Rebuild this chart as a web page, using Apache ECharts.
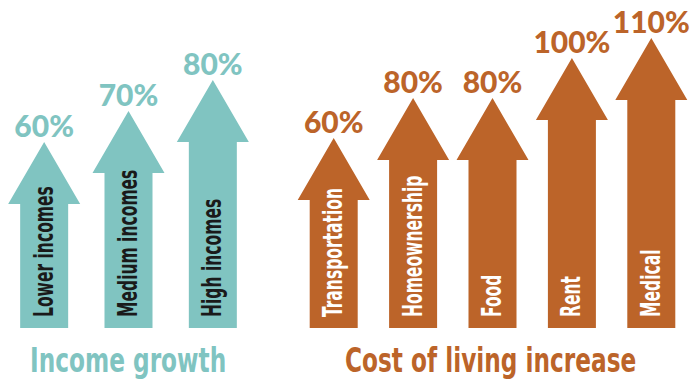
<!DOCTYPE html>
<html>
<head>
<meta charset="utf-8">
<script src="https://cdn.jsdelivr.net/npm/echarts@6/dist/echarts.min.js"></script>
<style>
  html, body { margin: 0; padding: 0; background: #fff; }
  #chart { width: 691px; height: 381px; }
</style>
</head>
<body>
<div id="chart"></div>
<script>
// Percentage increases by group
const incomeCategories = ['Lower incomes', 'Medium incomes', 'High incomes'];
const incomeValues = [60, 70, 80];
const costCategories = ['Transportation', 'Homeownership', 'Food', 'Rent', 'Medical'];
const costValues = [60, 80, 80, 100, 110];
const groupTitles = ['Income growth', 'Cost of living increase'];

const TEAL = '#80c4c1';
const RUST = '#bc6429';
const CONDENSED = "'DejaVu Sans Condensed', 'DejaVu Sans', sans-serif";

// Draws one upward arrow per category: shaft from the grid floor, head tip at the value.
function arrowRenderer(categories, fill, textColor) {
  return function (params, api) {
    const idx = api.value(0);
    const val = api.value(1);
    const tip = api.coord([idx, val]);
    const cs = params.coordSys;
    const base = cs.y + cs.height;
    const cx = tip[0];
    const shaftHalf = 24, headHalf = 36, headH = 62;
    const neck = tip[1] + headH;
    return {
      type: 'group',
      children: [
        {
          type: 'polygon',
          shape: {
            points: [
              [cx, tip[1]], [cx + headHalf, neck], [cx + shaftHalf, neck],
              [cx + shaftHalf, base], [cx - shaftHalf, base],
              [cx - shaftHalf, neck], [cx - headHalf, neck]
            ]
          },
          style: { fill: fill }
        },
        {
          type: 'text',
          x: cx - 1, y: base - 11,
          rotation: Math.PI / 2,
          scaleX: 0.64,
          style: {
            text: categories[idx], fill: textColor,
            font: 'bold 27px ' + CONDENSED,
            align: 'left', verticalAlign: 'middle'
          }
        },
        {
          type: 'text',
          x: cx, y: tip[1] - 2,
          style: {
            text: val + '%', fill: fill,
            font: '900 30px Lato, sans-serif',
            align: 'center', verticalAlign: 'bottom'
          }
        }
      ]
    };
  };
}

const chart = echarts.init(document.getElementById('chart'), null, { renderer: 'svg' });

chart.setOption({
  animation: false,
  backgroundColor: '#ffffff',
  grid: [
    { left: 2, width: 253, top: 18, bottom: 53 },
    { left: 294, right: 0, top: 3, bottom: 53 }
  ],
  xAxis: [
    { type: 'category', gridIndex: 0, data: incomeCategories, show: false },
    { type: 'category', gridIndex: 1, data: costCategories, show: false }
  ],
  yAxis: [
    { type: 'value', gridIndex: 0, min: 0, max: 100, show: false, splitLine: { show: false } },
    { type: 'value', gridIndex: 1, min: -35, max: 127.5, show: false, splitLine: { show: false } }
  ],
  series: [
    {
      type: 'custom', xAxisIndex: 0, yAxisIndex: 0,
      data: incomeValues.map((v, i) => [i, v]),
      encode: { x: 0, y: 1 },
      renderItem: arrowRenderer(incomeCategories, TEAL, '#1a1a1a')
    },
    {
      type: 'custom', xAxisIndex: 1, yAxisIndex: 1,
      data: costValues.map((v, i) => [i, v]),
      encode: { x: 0, y: 1 },
      renderItem: arrowRenderer(costCategories, RUST, '#ffffff')
    }
  ],
  graphic: [
    {
      type: 'text', x: 30, y: 360, scaleX: 0.76,
      style: { text: groupTitles[0], fill: TEAL, font: 'bold 34px ' + CONDENSED, verticalAlign: 'middle' }
    },
    {
      type: 'text', x: 345, y: 360, scaleX: 0.76,
      style: { text: groupTitles[1], fill: RUST, font: 'bold 34px ' + CONDENSED, verticalAlign: 'middle' }
    }
  ]
});
</script>
</body>
</html>
